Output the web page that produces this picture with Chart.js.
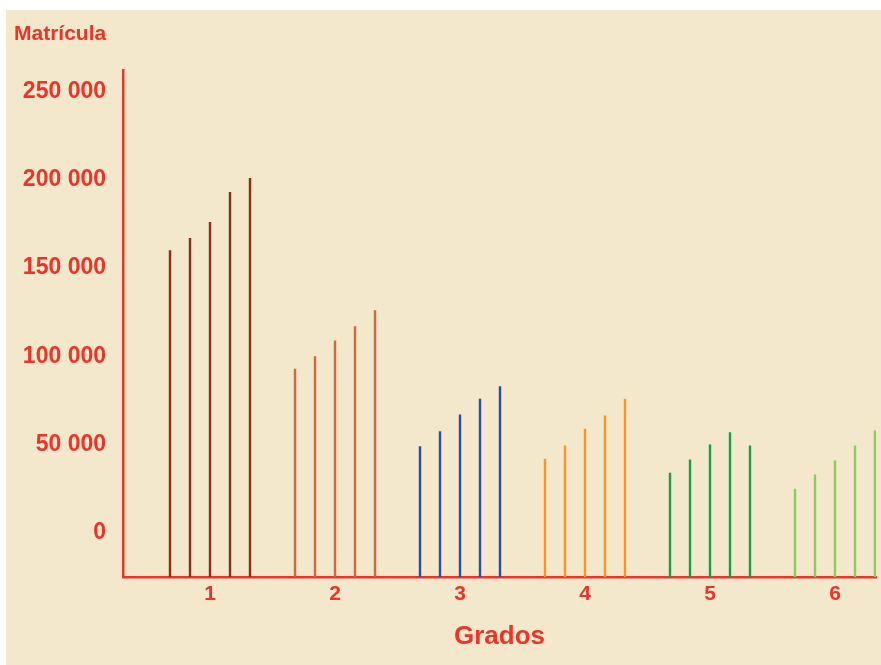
<!DOCTYPE html>
<html lang="es">
<head>
  <meta charset="UTF-8" />
  <title>Matrícula por grados</title>
  <script src="https://cdn.jsdelivr.net/npm/chart.js"></script>
  <style>
    html, body { margin: 0; padding: 0; background: #ffffff; }
    #fondo { position: absolute; left: 6px; top: 10px; width: 875px; height: 655px; background: #f3e7cc; }
  </style>
</head>
<body>
  <div id="fondo"><canvas id="grafico"></canvas></div>

  <script>
    // grados (categorías) y un color por grado
    const grados = ['1', '2', '3', '4', '5', '6'];
    const colores = ['#8c2c1c', '#d06a3c', '#2c4c9e', '#f7952b', '#16a047', '#8ccb5e'];

    // cinco barras por grado, leídas de izquierda a derecha
    const serie1 = [160000, 93000, 49000, 42000, 34000, 25000];
    const serie2 = [167000, 100000, 57500, 49500, 41500, 33000];
    const serie3 = [176000, 109000, 67000, 59000, 50000, 41000];
    const serie4 = [193000, 117000, 76000, 66500, 57000, 49500];
    const serie5 = [201000, 126000, 83000, 76000, 49500, 58000];

    const ticksY = [0, 50000, 100000, 150000, 200000, 250000];
    const minY = -25000;
    const maxY = 262000;

    const rojo = '#ec3428';
    const fuente = 'Liberation Sans, Arial, Helvetica, sans-serif';

    const series = [serie1, serie2, serie3, serie4, serie5];
    const datasets = series.map((s, i) => ({
      label: 'Serie ' + (i + 1),
      data: s.map((v, j) => ({ x: j + 1, y: [minY, v] })),
      backgroundColor: colores,
      categoryPercentage: 0.8,
      barPercentage: 0.12
    }));

    const fmt = v => String(v).replace(/\B(?=(\d{3})+(?!\d))/g, ' ');

    new Chart(document.getElementById('grafico'), {
      type: 'bar',
      data: { datasets },
      options: {
        responsive: true,
        maintainAspectRatio: false,
        animation: false,
        layout: { padding: { left: 8, right: 5, top: 0, bottom: 0 } },
        plugins: {
          legend: { display: false },
          tooltip: { enabled: false },
          title: {
            display: true,
            text: 'Matrícula',
            align: 'start',
            color: rojo,
            font: { family: fuente, size: 21, weight: 'bold' },
            padding: { top: 12, bottom: 23 }
          }
        },
        scales: {
          x: {
            type: 'linear',
            offset: false,
            min: 0.304,
            max: 6.328,
            grid: { display: false, drawTicks: false },
            border: { display: true, color: rojo, width: 2.5 },
            afterBuildTicks: s => { s.ticks = grados.map((g, i) => ({ value: i + 1 })); },
            afterFit: s => { s.height = 88; },
            ticks: {
              autoSkip: false,
              maxRotation: 0,
              padding: 5,
              color: rojo,
              font: { family: fuente, size: 21, weight: 'bold' },
              callback: v => grados[Math.round(v) - 1] || ''
            },
            title: {
              display: true,
              text: 'Grados',
              color: rojo,
              font: { family: fuente, size: 26, weight: 'bold' },
              padding: { top: 0, bottom: 13 }
            }
          },
          y: {
            min: minY,
            max: maxY,
            grid: { display: false, drawTicks: false },
            border: { display: true, color: rojo, width: 2.5 },
            afterBuildTicks: s => { s.ticks = ticksY.map(v => ({ value: v })); },
            afterFit: s => { s.width = 109; },
            ticks: {
              padding: 17,
              color: rojo,
              font: { family: fuente, size: 23, weight: 'bold' },
              callback: v => fmt(v)
            }
          }
        }
      }
    });
  </script>
</body>
</html>
